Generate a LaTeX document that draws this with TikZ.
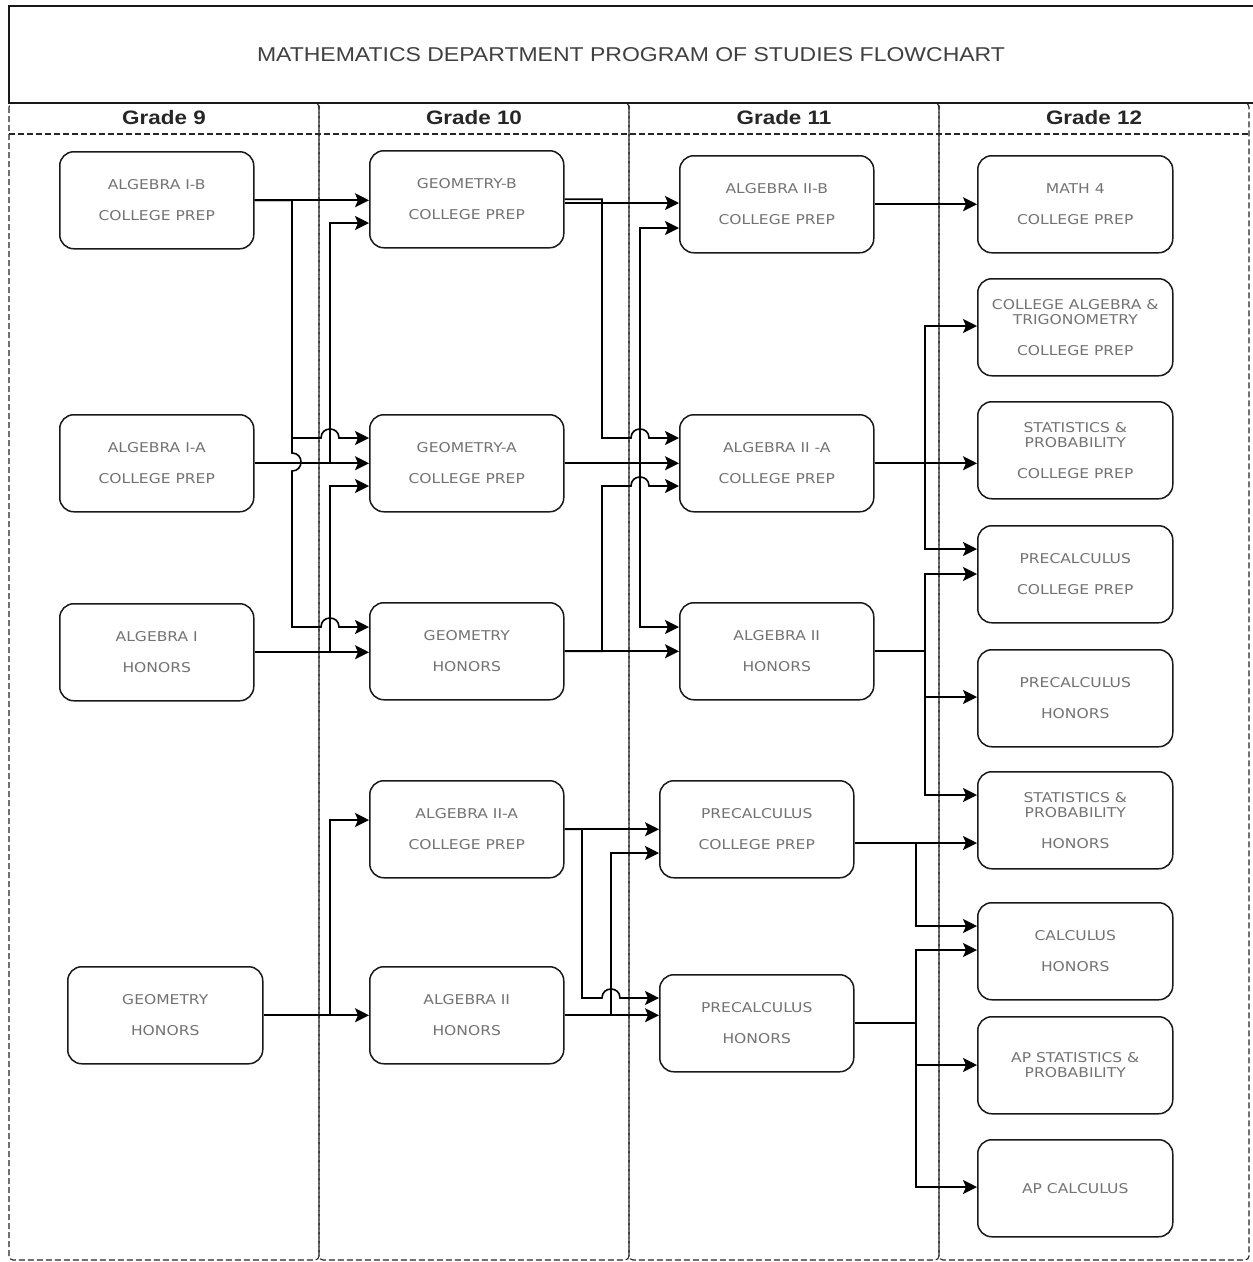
\documentclass[tikz,border=0pt]{standalone}
\usepackage{fontspec}
\newfontfamily\boxfont{DejaVu Sans}[FakeStretch=1.15]
\newfontfamily\titlefont{Liberation Sans}[FakeStretch=1.15]
\usetikzlibrary{arrows.meta,calc}
\begin{document}
\begin{tikzpicture}[x=1pt,y=-1pt,
  course/.style={draw=black!90, line width=1.5pt, rounded corners=14pt,
    minimum width=194pt, minimum height=97pt, inner sep=0pt, anchor=north west,
    align=center, text=black!55, font=\boxfont\fontsize{13.5}{15.3}\selectfont},
  link/.style={line width=1.6pt, draw=black, -{Stealth[length=14pt,width=14pt,inset=3pt]}},
  lane/.style={draw=black!85, line width=1.1pt, dash pattern=on 6pt off 3pt, rounded corners=4pt},
  gradelbl/.style={font=\titlefont\bfseries\fontsize{19.5}{22}\selectfont, text=black!85},
]
\useasboundingbox (0,0) rectangle (1253,1262);
\clip (0,0) rectangle (1253,1262);
\fill[white] (0,0) rectangle (1253,1262);

% swimlanes
\draw[lane] (9,103) rectangle (319,1260);
\draw[lane] (319,103) rectangle (629,1260);
\draw[lane] (629,103) rectangle (939,1260);
\draw[lane] (939,103) rectangle (1249,1260);
\draw[lane, rounded corners=0pt] (9,134) -- (1249,134);

% title
\draw[line width=1.5pt, draw=black!90] (9,6) rectangle (1275,103);
\node[font=\titlefont\fontsize{20}{24}\selectfont, text=black!75] (title) at (631,55)
  {MATHEMATICS DEPARTMENT PROGRAM OF STUDIES FLOWCHART};

\node[gradelbl] (g9) at (164,118) {Grade 9};
\node[gradelbl] (g10) at (474,118) {Grade 10};
\node[gradelbl] (g11) at (784,118) {Grade 11};
\node[gradelbl] (g12) at (1094,118) {Grade 12};

% grade 9
\node[course] (algIB) at (59,151) {ALGEBRA I-B\\[15.3pt]COLLEGE PREP};
\node[course] (algIA) at (59,414) {ALGEBRA I-A\\[15.3pt]COLLEGE PREP};
\node[course] (algIH) at (59,603) {ALGEBRA I\\[15.3pt]HONORS};
\node[course, minimum width=195pt] (geoH9) at (67,966) {GEOMETRY\\[15.3pt]HONORS};

% grade 10
\node[course] (geoB) at (369,150) {GEOMETRY-B\\[15.3pt]COLLEGE PREP};
\node[course] (geoA) at (369,414) {GEOMETRY-A\\[15.3pt]COLLEGE PREP};
\node[course] (geoH) at (369,602) {GEOMETRY\\[15.3pt]HONORS};
\node[course] (alg2A10) at (369,780) {ALGEBRA II-A\\[15.3pt]COLLEGE PREP};
\node[course] (alg2H10) at (369,966) {ALGEBRA II\\[15.3pt]HONORS};

% grade 11
\node[course] (alg2B) at (679,155) {ALGEBRA II-B\\[15.3pt]COLLEGE PREP};
\node[course] (alg2A) at (679,414) {ALGEBRA II -A\\[15.3pt]COLLEGE PREP};
\node[course] (alg2H) at (679,602) {ALGEBRA II\\[15.3pt]HONORS};
\node[course] (preCP) at (659,780) {PRECALCULUS\\[15.3pt]COLLEGE PREP};
\node[course] (preH) at (659,974) {PRECALCULUS\\[15.3pt]HONORS};

% grade 12
\node[course, minimum width=195pt] (math4) at (977,155) {MATH 4\\[15.3pt]COLLEGE PREP};
\node[course, minimum width=195pt] (cat) at (977,278) {COLLEGE ALGEBRA \&\\TRIGONOMETRY\\[15.3pt]COLLEGE PREP};
\node[course, minimum width=195pt] (statCP) at (977,401) {STATISTICS \&\\PROBABILITY\\[15.3pt]COLLEGE PREP};
\node[course, minimum width=195pt] (preC12) at (977,525) {PRECALCULUS\\[15.3pt]COLLEGE PREP};
\node[course, minimum width=195pt] (preH12) at (977,649) {PRECALCULUS\\[15.3pt]HONORS};
\node[course, minimum width=195pt] (statH) at (977,771) {STATISTICS \&\\PROBABILITY\\[15.3pt]HONORS};
\node[course, minimum width=195pt] (calcH) at (977,902) {CALCULUS\\[15.3pt]HONORS};
\node[course, minimum width=195pt] (apStat) at (977,1016) {AP STATISTICS \&\\PROBABILITY};
\node[course, minimum width=195pt] (apCalc) at (977,1139) {AP CALCULUS};

% grade 9 -> grade 10
\draw[link] (algIB.east) -- (algIB.east -| geoB.west);
\draw[link] (algIB.east) -| (292,438) -- (321,438) .. controls (321,426) and (339,426) .. (339,438) -- (geoA.west |- 0,438);
\draw[link] (algIB.east) -| (292,453) .. controls (304,453) and (304,471) .. (292,471) -- (292,627) -- (321,627) .. controls (321,615) and (339,615) .. (339,627) -- (geoH.west |- 0,627);
\draw[link] (algIA.east) -- (algIA.east -| geoA.west);
\draw[link] (algIA.east) -| (330,223) -- (geoB.west |- 0,223);
\draw[link] (algIH.east) -- (algIH.east -| geoH.west);
\draw[link] (algIH.east) -| (330,486) -- (geoA.west |- 0,486);
\draw[link] (geoH9.east) -- (geoH9.east -| alg2H10.west);
\draw[link] (geoH9.east) -| (330,820) -- (alg2A10.west |- 0,820);

% grade 10 -> grade 11
\draw[link] (geoB.east |- 0,203) -- (alg2B.west |- 0,203);
\draw[link] (geoB.east) -| (602,438) -- (631,438) .. controls (631,426) and (649,426) .. (649,438) -- (alg2A.west |- 0,438);
\draw[link] (geoA.east) -- (geoA.east -| alg2A.west);
\draw[link] (geoA.east) -| (640,228) -- (alg2B.west |- 0,228);
\draw[link] (geoA.east) -| (640,627) -- (alg2H.west |- 0,627);
\draw[link] (geoH.east) -- (geoH.east -| alg2H.west);
\draw[link] (geoH.east) -| (602,486) -- (631,486) .. controls (631,474) and (649,474) .. (649,486) -- (alg2A.west |- 0,486);
\draw[link] (alg2A10.east) -- (alg2A10.east -| preCP.west);
\draw[link] (alg2A10.east) -| (582,998) -- (602,998) .. controls (602,986) and (620,986) .. (620,998) -- (preH.west |- 0,998);
\draw[link] (alg2H10.east) -- (alg2H10.east -| preH.west);
\draw[link] (alg2H10.east) -| (611,853) -- (preCP.west |- 0,853);

% grade 11 -> grade 12
\draw[link] (alg2B.east) -- (alg2B.east -| math4.west);
\draw[link] (alg2A.east) -- (alg2A.east -| statCP.west);
\draw[link] (alg2A.east) -| (925,326) -- (cat.west |- 0,326);
\draw[link] (alg2A.east) -| (925,549) -- (preC12.west |- 0,549);
\draw[link] (alg2H.east) -| (925,574) -- (preC12.west |- 0,574);
\draw[link] (alg2H.east) -| (925,697) -- (preH12.west |- 0,697);
\draw[link] (alg2H.east) -| (925,795) -- (statH.west |- 0,795);
\draw[link] (preCP.east |- 0,843) -- (statH.west |- 0,843);
\draw[link] (preCP.east |- 0,843) -| (916,926) -- (calcH.west |- 0,926);
\draw[link] (preH.east) -| (916,950) -- (calcH.west |- 0,950);
\draw[link] (preH.east) -| (916,1065) -- (apStat.west |- 0,1065);
\draw[link] (preH.east) -| (916,1187) -- (apCalc.west |- 0,1187);
\end{tikzpicture}
\end{document}
